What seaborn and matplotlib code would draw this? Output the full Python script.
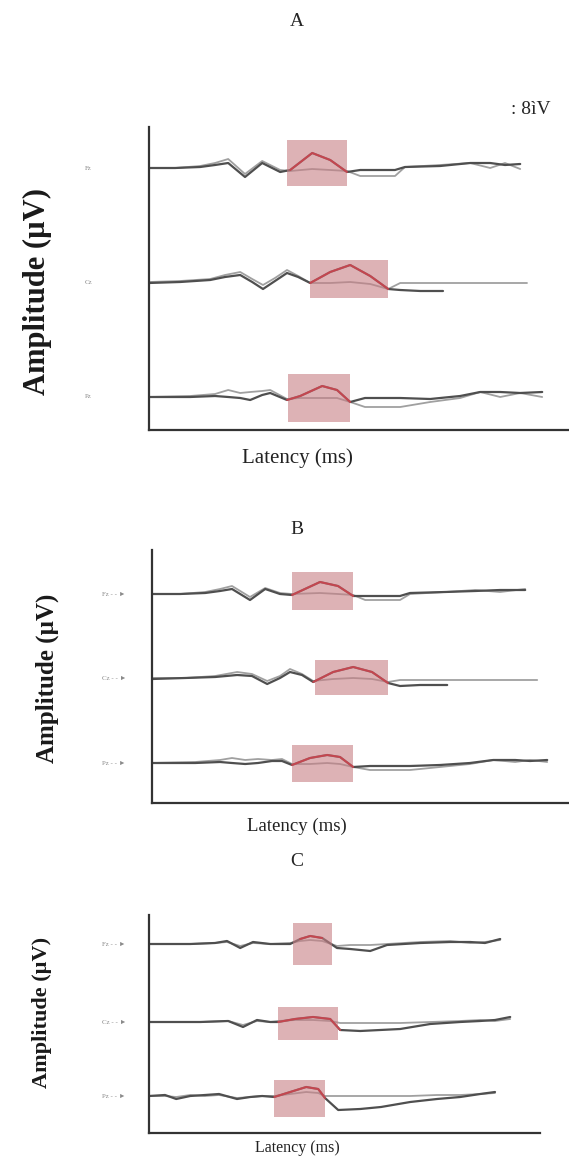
import numpy as np
import pandas as pd
import matplotlib
matplotlib.use("Agg")
import matplotlib.pyplot as plt
from matplotlib.patches import Rectangle
import seaborn as sns

sns.set_style("white")
plt.rcParams['font.family'] = ['Liberation Serif', 'DejaVu Serif']

# -------------------------------
# Data (latency in ms, amplitude in uV)
# -------------------------------
channels = ["Fz", "Cz", "Pz"]

# Panel A
a_fz_lat = [0, 65, 128, 165, 198, 240, 283, 328, 353, 408, 453, 495, 528, 615, 640, 728, 803, 853, 890, 928]
a_fz_c1 = [0, 0, 0.25, 0.75, 1.25, -2.25, 1.25, -1, -0.5, 3.75, 2, -1, -0.5, -0.5, 0.25, 0.5, 1.25, 1.25, 0.75, 1]
a_fz_c2 = [0, 0, 0.5, 1.25, 2.25, -1.5, 1.75, -0.5, -0.75, -0.25, -0.5, -0.75, -2, -2, 0.25, 0.75, 1.25, 0, 1.25, -0.25]

a_cz_lat = [0, 78, 153, 190, 228, 258, 285, 315, 345, 373, 403, 453, 503, 553, 598, 628, 678, 735, 753, 945]
a_cz_c1 = [-0.25, 0, 0.5, 1.25, 1.75, 0, -1.75, 0.25, 2.25, 1.25, -0.25, 2.5, 4.25, 1.5, -1.75, -2, -2.25, -2.25]
a_cz_c2 = [0, 0.25, 0.75, 1.75, 2.5, 0.75, -0.75, 1, 3, 1.5, -0.25, -0.25, 0, -0.5, -1.75, -0.25, -0.25, -0.25, -0.25, -0.25]

a_pz_lat = [0, 103, 165, 198, 228, 253, 283, 303, 345, 378, 433, 470, 503, 540, 628, 703, 778, 828, 878, 928, 983]
a_pz_c1 = [0, 0, 0.25, 0, -0.25, -0.75, 0.5, 1, -0.75, 0.25, 2.75, 1.75, -1.25, -0.25, -0.25, -0.5, 0.25, 1.25, 1.25, 1, 1.25]
a_pz_c2 = [0, 0.25, 0.75, 1.75, 1, 1.25, 1.5, 1.75, -0.5, -0.25, -0.25, -0.25, -1.25, -2.5, -2.5, -1.25, -0.25, 1.25, 0, 1, 0]

# Panel B
b_fz_lat = [0, 70, 133, 170, 200, 245, 283, 320, 350, 420, 465, 503, 533, 620, 645, 733, 808, 870, 933]
b_fz_c1 = [0, 0, 0.25, 0.75, 1.25, -1.5, 1.25, 0, -0.25, 3, 2, -0.5, -0.5, -0.5, 0.25, 0.5, 0.75, 1, 1]
b_fz_c2 = [0, 0, 0.5, 1.25, 2, -0.75, 1.5, 0.25, 0, 0.25, 0, -0.25, -1.5, -1.5, 0, 0.5, 1, 0.5, 1.25]

b_cz_lat = [0, 83, 158, 213, 250, 288, 320, 345, 375, 403, 453, 503, 550, 590, 620, 670, 738, 770, 963]
b_cz_c1 = [-0.25, 0, 0.25, 0.75, 0.5, -1.5, 0, 1.5, 0.75, -1, 1.5, 2.75, 1.5, -1.25, -2, -1.75, -1.75]
b_cz_c2 = [0, 0, 0.5, 1.5, 1, -0.75, 0.5, 2.25, 1, -0.75, -0.25, 0, -0.25, -1, -0.5, -0.5, -0.5, -0.5, -0.5]

b_pz_lat = [0, 108, 170, 200, 233, 265, 300, 325, 350, 395, 438, 470, 503, 545, 645, 720, 795, 853, 908, 945, 988]
b_pz_c1 = [0, 0, 0.25, 0, -0.25, 0, 0.5, 0.5, -0.5, 1.25, 2, 1.5, -1, -0.75, -0.75, -0.5, 0, 0.75, 0.75, 0.5, 0.75]
b_pz_c2 = [0, 0.25, 0.75, 1.25, 0.75, 1, 0.75, 1, -0.25, -0.25, 0, -0.25, -1, -1.75, -1.75, -1, -0.25, 0.75, 0.25, 0.75, 0.25]

# Panel C
c_fz_lat = [0, 103, 165, 195, 228, 260, 303, 353, 378, 403, 433, 470, 503, 553, 595, 678, 753, 803, 840, 878]
c_fz_c1 = [0, 0, 0.25, 0.75, -1, 0.5, 0, 0, 1.25, 2, 1.5, -1, -1.25, -1.75, -0.25, 0.25, 0.5, 0.5, 0.25, 1.25]
c_fz_c2 = [0, 0, 0.25, 0.5, -0.5, 0.25, 0, 0.25, 0.75, 1, 0.75, -0.5, -0.25, -0.25, 0, 0.5, 0.75, 0.25, 0.5, 1]

c_cz_lat = [0, 128, 198, 235, 270, 303, 323, 365, 410, 453, 478, 528, 628, 703, 778, 828, 865, 903]
c_cz_c1 = [0, 0, 0.25, -1.25, 0.5, 0, 0, 0.75, 1.25, 0.75, -2, -2.25, -1.75, -0.5, 0, 0.25, 0.5, 1.25]
c_cz_c2 = [0, 0, 0.25, -0.75, 0.25, 0, 0.25, 0.5, 0.5, 0.25, -0.25, -0.25, -0.25, 0, 0.25, 0.5, 0.25, 0.75]

c_pz_lat = [0, 40, 68, 103, 140, 175, 220, 253, 283, 313, 353, 393, 423, 440, 473, 528, 580, 653, 720, 778, 828, 865]
c_pz_c1 = [0, 0.25, -0.75, 0, 0.25, 0.5, -0.75, -0.25, 0, -0.25, 1, 2.25, 1.75, -0.5, -3.5, -3.25, -2.75, -1.5, -0.75, -0.25, 0.5, 1]
c_pz_c2 = [0, 0, -0.25, 0.25, 0, 0.25, -0.5, -0.25, 0, 0, 0.5, 1, 0.75, 0, 0, 0, 0, 0, 0.25, 0.25, 0.5, 0.75]

# analysis windows: (start ms, end ms, top uV, bottom uV)
a_windows = [(345, 495, 7, -4.5), (403, 598, 5.5, -4), (348, 503, 5.75, -6.25)]
b_windows = [(350, 503, 5.5, -4), (408, 590, 4.5, -4.25), (350, 503, 4.5, -4.75)]
c_windows = [(360, 458, 5.25, -5.25), (323, 473, 3.75, -4.5), (313, 440, 4, -5.25)]

panels = {
    "A": [(a_fz_lat, a_fz_c1, a_fz_c2), (a_cz_lat, a_cz_c1, a_cz_c2), (a_pz_lat, a_pz_c1, a_pz_c2)],
    "B": [(b_fz_lat, b_fz_c1, b_fz_c2), (b_cz_lat, b_cz_c1, b_cz_c2), (b_pz_lat, b_pz_c1, b_pz_c2)],
    "C": [(c_fz_lat, c_fz_c1, c_fz_c2), (c_cz_lat, c_cz_c1, c_cz_c2), (c_pz_lat, c_pz_c1, c_pz_c2)],
}
windows = {"A": a_windows, "B": b_windows, "C": c_windows}

# -------------------------------
# Layout (pixel based, 569 x 1158)
# -------------------------------
W, H = 569, 1158
layout = {
    # axes box px (left, top, right, bottom), xlim, ylim, channel offsets
    "A": dict(box=(149, 127, 569, 430), xmax=1050, ymax=75.75, offs=[65.5, 37, 8.25],
              title_y=22, lat_y=458, amp_x=37, amp_y=292, amp_fs=22, lat_fs=15,
              arrow=False, lab_x=92),
    "B": dict(box=(152, 550, 569, 803), xmax=1042.5, ymax=63.25, offs=[52.25, 31.25, 10],
              title_y=530, lat_y=826, amp_x=47, amp_y=678, amp_fs=18, lat_fs=13.5,
              arrow=True, lab_x=126),
    "C": dict(box=(149, 915, 540, 1133), xmax=977.5, ymax=54.5, offs=[47.25, 27.75, 9.25],
              title_y=862, lat_y=1148, amp_x=42, amp_y=1012, amp_fs=16, lat_fs=11.5,
              arrow=True, lab_x=126),
}

fig = plt.figure(figsize=(W / 100, H / 100), dpi=100)

for name, traces in panels.items():
    L = layout[name]
    x0, y0, x1, y1 = L["box"]
    ax = fig.add_axes([x0 / W, 1 - y1 / H, (x1 - x0) / W, (y1 - y0) / H])
    ax.set_xlim(0, L["xmax"])
    ax.set_ylim(0, L["ymax"])

    for i, (lat, c1, c2) in enumerate(traces):
        off = L["offs"][i]
        lat = np.array(lat)
        y1_ = np.array(c1) + off
        y2_ = np.array(c2) + off
        sns.lineplot(x=lat[:len(y2_)], y=y2_, ax=ax, color="#a0a0a0", lw=1.3,
                     estimator=None, sort=False, zorder=2)
        sns.lineplot(x=lat[:len(y1_)], y=y1_, ax=ax, color="#4f4f4f", lw=1.6,
                     estimator=None, sort=False, zorder=2)

        ws, we, wt, wb = windows[name][i]
        ax.add_patch(Rectangle((ws, off + wb), we - ws, wt - wb,
                               facecolor="#c77f85", alpha=0.6, lw=0, zorder=3))
        lat1 = lat[:len(y1_)]
        m = (lat1 >= ws - 5) & (lat1 <= we + 5)
        sns.lineplot(x=lat1[m], y=y1_[m], ax=ax, color="#c4464f", lw=1.4,
                     estimator=None, sort=False, zorder=4)

        lab = channels[i] + (" - - \u25ba" if L["arrow"] else "")
        fig.text(L["lab_x"] / W, 1 - (y1 - off / L["ymax"] * (y1 - y0)) / H, lab,
                 ha="right", va="center", fontsize=5, color="#8a8a8a")

    ax.set_xticks([])
    ax.set_yticks([])
    ax.set_xlabel("")
    ax.set_ylabel("")
    for s in ["top", "right"]:
        ax.spines[s].set_visible(False)
    for s in ["left", "bottom"]:
        ax.spines[s].set_color("#333333")
        ax.spines[s].set_linewidth(1.6)

    fig.text(297 / W, 1 - L["title_y"] / H, name, ha="center", va="center", fontsize=14)
    fig.text(297 / W, 1 - L["lat_y"] / H, "Latency (ms)", ha="center", va="center",
             fontsize=L["lat_fs"], color="#222222")
    fig.text(L["amp_x"] / W, 1 - L["amp_y"] / H, "Amplitude (\u00b5V)",
             rotation=90, ha="center", va="center", fontsize=L["amp_fs"],
             fontweight="bold", color="#1a1a1a")

fig.text(531 / W, 1 - 110 / H, ": 8ìV", ha="center", va="center", fontsize=14)

plt.savefig("out.png", dpi=100)
